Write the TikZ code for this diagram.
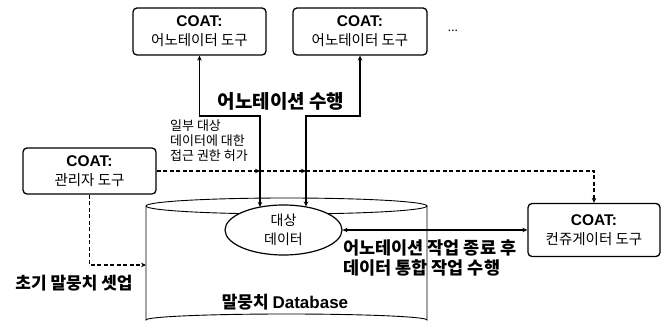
\documentclass[tikz,border=0pt]{standalone}
\usepackage{fontspec}
\setmainfont{Noto Sans CJK KR}
\newfontfamily\latf{Liberation Sans}
\usetikzlibrary{arrows.meta,shapes.geometric}
\begin{document}
\begin{tikzpicture}[x=1pt,y=-1pt,
  tool/.style={draw,rounded corners=4pt,line width=1.3pt,align=center,inner sep=0pt,font=\fontsize{14.5}{19}\selectfont},
  conn/.style={line width=1.2pt},
  tip/.style={-{Stealth[length=5pt,width=4.5pt]}},
  dtip/.style={{Stealth[length=5pt,width=4.5pt]}-{Stealth[length=5pt,width=4.5pt]}},
  dashline/.style={line width=1.2pt,dash pattern=on 4pt off 2.5pt},
  boldlab/.style={font=\bfseries\fontsize{17}{21}\selectfont,inner sep=0pt}]
\useasboundingbox (0,0) rectangle (670,328);
\newcommand\coat[1]{{\latf\bfseries\fontsize{15.5}{19}\selectfont COAT:}\\#1}
% tool boxes
\node[tool,minimum width=133pt,minimum height=47pt] (t1) at (199.5,31.5) {\coat{어노테이터 도구}};
\node[tool,minimum width=134pt,minimum height=47pt] (t2) at (360,31.5) {\coat{어노테이터 도구}};
\node[inner sep=0pt,font=\fontsize{12}{14}\selectfont] (dots) at (453,31) {...};
\node[tool,minimum width=133pt,minimum height=46pt] (adm) at (89.5,171) {\coat{관리자 도구}};
\node[tool,minimum width=132pt,minimum height=53pt] (cur) at (594,230) {\coat{컨쥬게이터 도구}};
% cylinder
\draw[line width=0.9pt] (146,206) -- (146,320) arc[start angle=180,end angle=360,x radius=140.5,y radius=6] -- (427,206);
\draw[line width=0.9pt] (286.5,206) ellipse[x radius=140.5,y radius=8];
\node[draw,ellipse,line width=1.2pt,fill=white,minimum width=117pt,minimum height=50pt,inner sep=0pt,align=center,font=\fontsize{14}{19}\selectfont] (data) at (283.5,230) {대상\\데이터};
\node[boldlab] (db) at (285,302) {말뭉치 {\latf\bfseries Database}};
% coordinates
\coordinate (c1) at (260,116);
\coordinate (e1) at (260,207);
\coordinate (c2) at (306,116);
\coordinate (e2) at (306,206.5);
\coordinate (d1) at (260,171);
\coordinate (d2) at (306,171);
\coordinate (d3) at (594,171);
\coordinate (cl) at (146,265);
% solid connectors
\draw[conn,dtip] (t1.south) |- (c1) -- (e1);
\draw[conn,dtip] (t2.south) |- (c2) -- (e2);
\draw[conn,dtip] (data.east) -- (cur.west);
% dashed connectors
\draw[dashline,tip] (adm.east) -- (d1);
\draw[dashline,tip] (d1) -- (d2);
\draw[dashline,tip] (d2) -- (d3) -- (cur.north);
\draw[dashline,tip] (adm.south) |- (cl);
% labels
\node[boldlab,font=\bfseries\fontsize{19}{21}\selectfont] (l1) at (281,101) {어노테이션 수행};
\node[anchor=north west,align=left,inner sep=0pt,font=\fontsize{13}{15}\selectfont] (l2) at (170,120) {일부 대상\\데이터에 대한\\접근 권한 허가};
\node[boldlab] (l3) at (74,283) {초기 말뭉치 셋업};
\node[anchor=west,align=left,inner sep=0pt,font=\bfseries\fontsize{17.5}{20}\selectfont] (l4) at (343,258) {어노테이션 작업 종료 후\\데이터 통합 작업 수행};
\end{tikzpicture}
\end{document}
